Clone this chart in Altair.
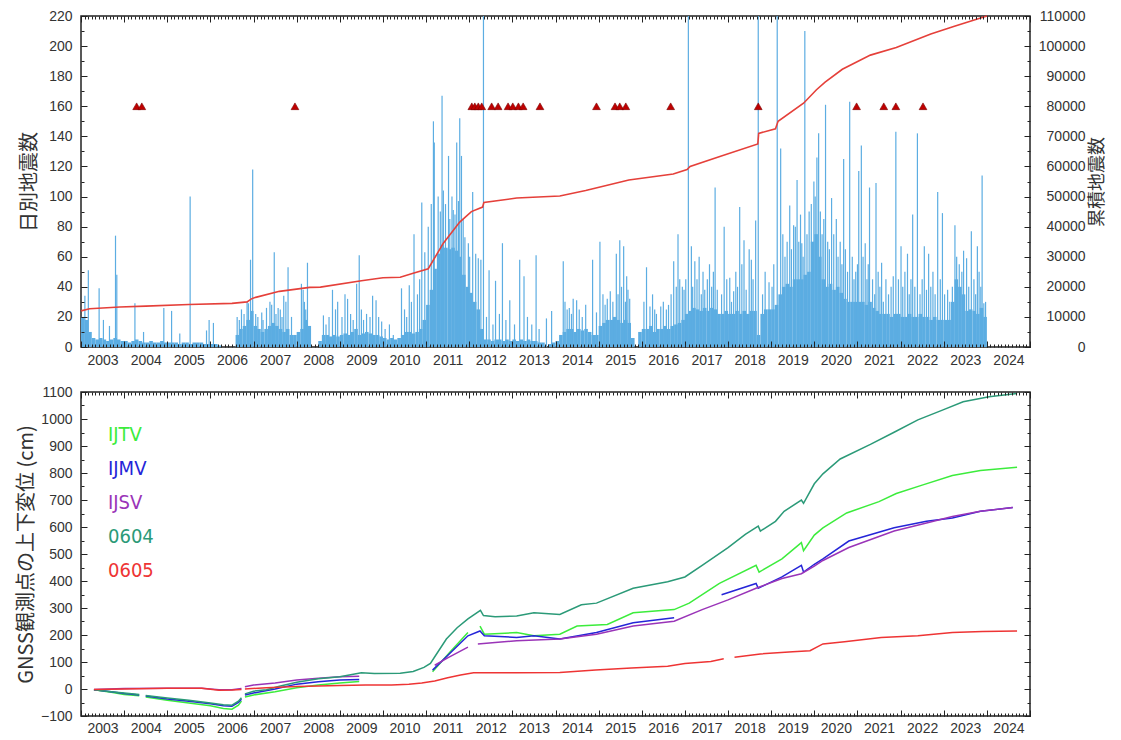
import altair as alt
import pandas as pd

# ---------------- data ----------------
X_DOMAIN = [2003, 2025]
YEARS = list(range(2003, 2025))

# typical daily-count level of the dense bar mass, Jan..Dec of each year
base_2003 = [20, 18, 10, 6, 5, 6, 5, 4, 5, 6, 5, 4]
base_2004 = [4, 3, 4, 5, 4, 3, 3, 4, 3, 3, 4, 3]
base_2005 = [3, 3, 3, 2, 3, 3, 2, 3, 3, 3, 2, 2]
base_2006 = [2, 2, 1, 0, 0, 0, 0, 8, 12, 14, 18, 24]
base_2007 = [14, 12, 10, 12, 14, 16, 14, 12, 10, 12, 8, 8]
base_2008 = [10, 12, 18, 14, 0, 0, 4, 8, 8, 7, 8, 7]
base_2009 = [8, 9, 8, 10, 12, 8, 9, 10, 9, 8, 8, 7]
base_2010 = [6, 5, 6, 5, 6, 8, 10, 10, 9, 10, 12, 18]
base_2011 = [28, 38, 52, 62, 68, 66, 65, 66, 64, 60, 48, 40]
base_2012 = [36, 30, 25, 12, 5, 5, 4, 5, 5, 4, 5, 4]
base_2013 = [5, 4, 5, 4, 5, 4, 4, 3, 3, 0, 2, 3]
base_2014 = [4, 8, 10, 12, 12, 10, 12, 11, 12, 10, 8, 8]
base_2015 = [14, 16, 18, 18, 20, 18, 16, 18, 16, 6, 0, 10]
base_2016 = [12, 12, 14, 10, 12, 12, 14, 12, 14, 15, 16, 18]
base_2017 = [22, 24, 26, 25, 24, 26, 24, 26, 25, 22, 22, 24]
base_2018 = [22, 22, 24, 22, 24, 22, 24, 24, 8, 22, 25, 25]
base_2019 = [25, 28, 35, 40, 42, 40, 45, 45, 45, 48, 50, 70]
base_2020 = [75, 60, 45, 40, 42, 38, 40, 36, 32, 30, 30, 30]
base_2021 = [30, 30, 28, 30, 26, 24, 22, 22, 22, 20, 22, 22]
base_2022 = [20, 20, 22, 20, 20, 22, 20, 20, 18, 20, 18, 18]
base_2023 = [18, 18, 30, 45, 40, 35, 24, 25, 24, 22, 26, 20]
BASE_BY_YEAR = [base_2003, base_2004, base_2005, base_2006, base_2007, base_2008,
                base_2009, base_2010, base_2011, base_2012, base_2013, base_2014,
                base_2015, base_2016, base_2017, base_2018, base_2019, base_2020,
                base_2021, base_2022, base_2023]

# individual tall days (decimal year, daily count)
SPIKES = [
    (2003.09, 34), (2003.17, 51), (2003.42, 39), (2003.52, 18), (2003.66, 14), (2003.80, 74),
    (2003.83, 48), (2004.25, 29), (2004.45, 10), (2004.92, 26), (2005.10, 24), (2005.29, 9),
    (2005.53, 100), (2005.91, 11), (2005.97, 18), (2006.07, 16), (2006.67, 18), (2006.88, 29),
    (2006.93, 58), (2006.98, 118), (2007.19, 23), (2007.30, 26), (2007.38, 30), (2007.48, 63),
    (2007.57, 26), (2007.70, 34), (2007.80, 53), (2008.11, 42), (2008.15, 38), (2008.25, 56),
    (2008.62, 21), (2008.83, 38), (2008.95, 30), (2009.12, 35), (2009.18, 32), (2009.31, 18),
    (2009.39, 42), (2009.45, 61), (2009.62, 22), (2009.76, 34), (2009.84, 31), (2009.97, 17),
    (2010.24, 8), (2010.43, 39), (2010.61, 41), (2010.72, 75), (2010.90, 96), (2010.97, 63),
    (2011.05, 80), (2011.12, 95), (2011.17, 150), (2011.19, 136), (2011.28, 100), (2011.33, 90),
    (2011.37, 167), (2011.40, 104), (2011.45, 95), (2011.52, 127), (2011.55, 85), (2011.60, 100),
    (2011.63, 91), (2011.67, 88), (2011.71, 136), (2011.75, 97), (2011.78, 152), (2011.82, 127),
    (2011.86, 85), (2011.90, 73), (2011.98, 69), (2012.01, 60), (2012.08, 103), (2012.15, 62),
    (2012.21, 59), (2012.27, 58), (2012.33, 240), (2012.46, 51), (2012.61, 44), (2012.77, 69),
    (2012.94, 31), (2013.17, 58), (2013.27, 47), (2013.55, 61), (2013.79, 19), (2013.91, 24),
    (2014.18, 57), (2014.32, 26), (2014.41, 32), (2014.49, 31), (2014.86, 58), (2014.95, 23),
    (2015.03, 70), (2015.27, 37), (2015.41, 62), (2015.49, 71), (2015.58, 67), (2015.65, 47),
    (2015.72, 32), (2016.11, 53), (2016.19, 27), (2016.34, 22), (2016.44, 27), (2016.57, 25),
    (2016.74, 57), (2016.84, 75), (2016.94, 40), (2017.08, 240), (2017.15, 67), (2017.23, 57),
    (2017.33, 60), (2017.46, 38), (2017.70, 106), (2017.75, 38), (2017.91, 80), (2018.04, 46),
    (2018.13, 37), (2018.27, 93), (2018.37, 71), (2018.49, 65), (2018.54, 58), (2018.64, 84),
    (2018.70, 240), (2018.95, 43), (2019.14, 240), (2019.22, 132), (2019.43, 94), (2019.52, 81),
    (2019.60, 111), (2019.71, 69), (2019.78, 210), (2019.99, 110), (2020.06, 126), (2020.10, 142),
    (2020.26, 161), (2020.40, 99), (2020.51, 85), (2020.68, 125), (2020.82, 163), (2020.96, 50),
    (2021.03, 117), (2021.09, 134), (2021.18, 69), (2021.28, 106), (2021.43, 109), (2021.56, 56),
    (2021.83, 47), (2021.89, 143), (2022.01, 67), (2022.16, 62), (2022.28, 88), (2022.39, 142),
    (2022.55, 67), (2022.65, 62), (2022.86, 103), (2022.97, 89), (2023.09, 38), (2023.26, 81),
    (2023.46, 64), (2023.53, 59), (2023.64, 77), (2023.78, 67), (2023.89, 114), (2023.93, 29),
]

# medium-height days that give the dense bar mass its ragged top
MID_SPIKES = [
    (2006.62, 20), (2006.72, 25), (2006.78, 22), (2006.85, 30), (2007.05, 22), (2007.10, 20),
    (2007.22, 18), (2007.42, 28), (2007.52, 22), (2007.62, 25), (2007.66, 20), (2007.75, 30),
    (2007.88, 20), (2008.18, 30), (2008.21, 25), (2008.68, 15), (2008.75, 20), (2008.90, 25),
    (2009.05, 20), (2009.25, 22), (2009.50, 25), (2009.55, 18), (2009.70, 20), (2009.90, 20),
    (2010.05, 12), (2010.15, 15), (2010.50, 25), (2010.55, 20), (2010.66, 30), (2010.80, 35),
    (2010.85, 45), (2012.40, 20), (2012.55, 15), (2012.70, 22), (2012.85, 18), (2013.05, 15),
    (2013.35, 20), (2013.45, 15), (2013.62, 12), (2014.22, 30), (2014.27, 25), (2014.37, 22),
    (2014.55, 25), (2014.62, 20), (2014.70, 28), (2015.10, 35), (2015.15, 28), (2015.20, 32),
    (2015.33, 30), (2015.45, 35), (2015.53, 40), (2015.62, 30), (2015.68, 38), (2016.05, 30),
    (2016.25, 35), (2016.30, 25), (2016.50, 30), (2016.62, 28), (2016.68, 35), (2016.80, 40),
    (2016.88, 45), (2016.98, 38), (2017.02, 45), (2017.18, 40), (2017.28, 45), (2017.38, 35),
    (2017.42, 50), (2017.52, 45), (2017.57, 55), (2017.62, 40), (2017.66, 50), (2017.85, 35),
    (2017.97, 45), (2018.08, 30), (2018.18, 50), (2018.22, 40), (2018.32, 55), (2018.42, 38),
    (2018.58, 45), (2018.80, 35), (2018.86, 50), (2019.02, 40), (2019.06, 55), (2019.27, 75),
    (2019.32, 60), (2019.37, 70), (2019.47, 65), (2019.56, 80), (2019.64, 70), (2019.68, 88),
    (2019.74, 60), (2019.83, 75), (2019.88, 90), (2019.93, 95), (2020.02, 100), (2020.14, 90),
    (2020.18, 75), (2020.22, 85), (2020.31, 70), (2020.35, 65), (2020.45, 75), (2020.55, 60),
    (2020.60, 70), (2020.64, 55), (2020.72, 65), (2020.77, 50), (2020.88, 60), (2020.92, 45),
    (2021.00, 55), (2021.13, 60), (2021.22, 45), (2021.25, 55), (2021.35, 45), (2021.40, 35),
    (2021.48, 50), (2021.52, 40), (2021.60, 30), (2021.66, 45), (2021.72, 35), (2021.78, 40),
    (2021.95, 45), (2022.05, 40), (2022.10, 50), (2022.20, 35), (2022.24, 45), (2022.33, 40),
    (2022.45, 35), (2022.50, 45), (2022.60, 38), (2022.70, 40), (2022.75, 50), (2022.80, 35),
    (2022.92, 45), (2023.02, 35), (2023.14, 30), (2023.20, 40), (2023.30, 60), (2023.36, 55),
    (2023.42, 50), (2023.58, 40), (2023.70, 45), (2023.74, 35), (2023.82, 50), (2023.86, 40),
    (2023.97, 30),
]

# cumulative number of earthquakes (right axis)
CUM_T = [2003.0, 2003.2, 2003.9, 2004.5, 2005.5, 2006.5, 2006.85, 2006.95, 2007.05, 2007.6,
         2008.3, 2008.55, 2009.5, 2010.0, 2010.4, 2010.7, 2011.05, 2011.4, 2011.78, 2012.05,
         2012.31, 2012.34, 2013.1, 2014.1, 2014.7, 2015.7, 2016.73, 2017.05, 2017.12, 2017.81,
         2018.69, 2018.71, 2019.1, 2019.16, 2019.75, 2020.05, 2020.25, 2020.65, 2021.3, 2021.9,
         2022.7, 2023.23, 2024.0]
CUM_N = [12000, 12700, 13300, 13600, 14100, 14500, 15000, 16000, 16500, 18500,
         19800, 19900, 22000, 23000, 23200, 24500, 26000, 34500, 41500, 45000,
         46500, 48000, 49500, 50200, 52000, 55500, 57500, 59000, 60000, 63300,
         67500, 71000, 72500, 75000, 81000, 85500, 88000, 92300, 97000, 99500,
         104000, 106500, 110000]

# eruption markers (drawn at the 160 level)
ERUPTIONS = [2004.29, 2004.41, 2007.96, 2012.06, 2012.13, 2012.21, 2012.29, 2012.52, 2012.67,
             2012.90, 2013.01, 2013.14, 2013.25, 2013.64, 2014.95, 2015.38, 2015.49, 2015.63,
             2016.67, 2018.70, 2020.98, 2021.61, 2021.89, 2022.52]
ERUPTION_LEVEL = 160

# GNSS vertical displacement (cm); None separates data gaps
IJTV_T = [2003.3, 2003.7, 2004.0, 2004.35, None, 2004.5, 2005.0, 2005.5, 2006.0, 2006.3, 2006.5,
          2006.65, 2006.72, None, 2006.8, 2007.0, 2007.5, 2008.0, 2008.5, 2009.0, 2009.45, None,
          2011.15, 2011.55, 2011.97, None, 2012.25, 2012.35, 2013.1, 2013.5, 2014.1, 2014.5,
          2015.2, 2015.8, 2016.75, 2017.1, 2017.8, 2018.65, 2018.72, 2019.25, 2019.7, 2019.75,
          2020.0, 2020.2, 2020.75, 2021.5, 2021.9, 2022.5, 2023.2, 2023.85, 2024.7]
IJTV_V = [-3, -12, -20, -25, None, -30, -42, -52, -62, -72, -75,
          -60, -45, None, -30, -22, -10, 5, 15, 22, 28, None,
          64, 136, 209, None, 233, 203, 209, 197, 203, 233,
          239, 282, 294, 318, 391, 458, 433, 482, 542, 512,
          570, 597, 652, 694, 724, 755, 791, 809, 821]

IJMV_T = [2003.3, 2003.7, 2004.0, 2004.35, None, 2004.5, 2005.0, 2005.5, 2006.0, 2006.3, 2006.5,
          2006.65, 2006.72, None, 2006.8, 2007.0, 2007.5, 2008.0, 2008.5, 2009.0, 2009.45, None,
          2011.15, 2011.5, 2011.97, 2012.25, 2012.35, 2013.1, 2013.5, 2014.1, 2014.95, 2015.8,
          2016.75, None, 2017.85, 2018.65, 2018.7, 2019.25, 2019.7, 2019.75, 2020.0, 2020.2,
          2020.8, 2021.85, 2022.6, 2023.2, 2023.85, 2024.6]
IJMV_V = [-3, -10, -17, -22, None, -26, -37, -45, -55, -62, -64,
          -50, -38, None, -22, -15, 0, 18, 27, 33, 35, None,
          70, 124, 197, 215, 197, 191, 197, 185, 209, 245,
          264, None, 349, 391, 373, 415, 458, 433, 462, 482,
          548, 597, 621, 633, 658, 672]

IJSV_T = [2003.3, 2004.0, 2005.0, 2005.8, 2006.2, 2006.5, 2006.72, None, 2006.8, 2007.0, 2007.5,
          2008.0, 2008.5, 2009.0, 2009.45, None, 2011.2, 2011.5, 2011.97, None, 2012.2, 2012.6,
          2013.1, 2014.1, 2014.95, 2015.8, 2016.75, 2017.4, 2018.0, 2018.65, 2019.25, 2019.7,
          2020.0, 2020.2, 2020.8, 2021.85, 2022.6, 2023.2, 2023.85, 2024.6]
IJSV_V = [-2, 2, 3, 3, -3, -3, 2, None, 8, 15, 22,
          33, 40, 45, 47, None, 88, 115, 155, None, 167, 172,
          179, 185, 203, 233, 251, 294, 330, 373, 409, 427,
          455, 476, 524, 585, 615, 639, 658, 672]

S0604_T = [2003.3, 2003.7, 2004.0, 2004.35, None, 2004.5, 2005.0, 2005.5, 2006.0, 2006.3, 2006.5,
           2006.65, 2006.72, None, 2006.8, 2007.0, 2007.3, 2007.6, 2008.0, 2008.5, 2009.0, 2009.5,
           2009.8, 2010.4, 2010.7, 2010.95, 2011.1, 2011.22, 2011.47, 2011.72, 2011.97, 2012.26,
           2012.33, 2012.6, 2013.1, 2013.5, 2014.1, 2014.6, 2014.95, 2015.8, 2016.6, 2017.0,
           2017.4, 2018.0, 2018.4, 2018.7, 2018.75, 2019.1, 2019.3, 2019.7, 2019.75, 2020.0,
           2020.2, 2020.6, 2021.3, 2021.85, 2022.4, 2022.97, 2023.45, 2024.05, 2024.7]
S0604_V = [-3, -10, -15, -20, None, -24, -33, -42, -52, -58, -60,
           -45, -32, None, -18, -8, -3, 10, 25, 38, 45, 60,
           57, 58, 65, 80, 95, 124, 185, 227, 260, 291,
           272, 268, 270, 282, 276, 312, 318, 373, 397, 415,
           458, 524, 573, 603, 585, 621, 658, 700, 688, 760,
           797, 852, 906, 951, 997, 1033, 1064, 1082, 1094]

S0605_T = [2003.3, 2004.0, 2005.0, 2005.8, 2006.2, 2006.5, 2006.72, None, 2006.8, 2007.3, 2008.0,
           2009.0, 2009.6, 2010.2, 2010.6, 2010.9, 2011.2, 2011.5, 2011.8, 2012.1, 2012.5, 2013.1,
           2014.1, 2014.93, 2015.76, 2016.6, 2017.0, 2017.6, 2017.9, None, 2018.15, 2018.75,
           2019.5, 2019.9, 2020.2, 2020.7, 2021.55, 2022.4, 2023.2, 2023.9, 2024.7]
S0605_V = [-2, 0, 3, 3, -5, -4, -2, None, 0, 5, 9,
           13, 15, 15, 18, 22, 30, 42, 52, 60, 60, 60,
           61, 70, 78, 84, 94, 102, 112, None, 118, 130,
           138, 142, 167, 175, 191, 197, 209, 213, 215]

STATIONS = ["IJTV", "IJMV", "IJSV", "0604", "0605"]
STATION_COLORS = ["#3cec3c", "#2525d8", "#9a34b8", "#2b9a78", "#ee3434"]
SERIES = [(IJTV_T, IJTV_V), (IJMV_T, IJMV_V), (IJSV_T, IJSV_V), (S0604_T, S0604_V), (S0605_T, S0605_V)]

# ---------------- tables ----------------
base_rows = []
for yi, levels in enumerate(BASE_BY_YEAR):
    yr = YEARS[yi]
    for m, val in enumerate(levels):
        base_rows.append({"x": yr + m / 12, "x2": yr + (m + 1) / 12, "n": val})
base_df = pd.DataFrame(base_rows)
spike_df = pd.DataFrame(SPIKES + MID_SPIKES, columns=["t", "n"])
cum_df = pd.DataFrame({"t": CUM_T, "c": CUM_N})
erupt_df = pd.DataFrame({"t": ERUPTIONS, "n": [ERUPTION_LEVEL] * len(ERUPTIONS)})

g_rows = []
for name, (ts, vs) in zip(STATIONS, SERIES):
    seg = 0
    for t, v in zip(ts, vs):
        if t is None:
            seg += 1
            continue
        g_rows.append({"t": t, "v": v, "station": name, "seg": f"{name}-{seg}"})
gnss_df = pd.DataFrame(g_rows)

# ---------------- styling ----------------
W = 949
H_TOP = 331
H_BOT = 324
HALF_YEAR_PX = W / 22 / 2
LABEL_FONT = "Liberation Sans"
CJK_FONT = "Noto Sans CJK JP"
NARROW_FONT = "Liberation Sans Narrow, DejaVu Sans Condensed, sans-serif"
TXT = "#333333"
FRAME = "#222222"
BAR = "#5cade2"
CUM_RED = "#e5403a"

xscale = alt.Scale(domain=X_DOMAIN, nice=False, zero=False)
MONTH_TICKS = [2003 + i / 12 for i in range(22 * 12 + 1)]
YEAR_TICKS = YEARS + [2025]


def x_label_axis(pad):
    return alt.Axis(orient="bottom", values=YEARS, format="d", labelOffset=HALF_YEAR_PX,
                    labelFlush=False, labelOverlap=False, labelBound=False, ticks=False,
                    domain=False, grid=False, labelPadding=pad, title=None)


def frame_ticks(ydomain, ymaj, ymin):
    anchor = pd.DataFrame({"x": [X_DOMAIN[0]], "y": [ydomain[0]]})
    layers = []
    for xo, yo, xv, yv, size in [("bottom", "left", YEAR_TICKS, ymaj, 6),
                                 ("bottom", "left", MONTH_TICKS, ymin, 3),
                                 ("top", "right", YEAR_TICKS, ymaj, 6),
                                 ("top", "right", MONTH_TICKS, ymin, 3)]:
        common = dict(tickSize=size, offset=-size, labels=False, domain=False, grid=False,
                      title=None, ticks=True, tickColor=FRAME, tickWidth=1, zindex=2)
        layers.append(
            alt.Chart(anchor).mark_point(opacity=0).encode(
                x=alt.X("x:Q", scale=xscale, axis=alt.Axis(orient=xo, values=xv, **common)),
                y=alt.Y("y:Q", scale=alt.Scale(domain=ydomain, nice=False, zero=False),
                        axis=alt.Axis(orient=yo, values=yv, **common)),
            )
        )
    return layers


count_scale = alt.Scale(domain=[0, 220], nice=False, zero=False)
cum_scale = alt.Scale(domain=[0, 110000], nice=False, zero=False)

bars = alt.Chart(base_df).mark_rect(color=BAR, strokeWidth=0).encode(
    x=alt.X("x:Q", scale=xscale, axis=x_label_axis(6)),
    x2="x2:Q",
    y=alt.Y("n:Q", scale=count_scale,
            axis=alt.Axis(orient="left", values=list(range(0, 221, 20)), ticks=False,
                          domain=False, grid=False, labelPadding=9, title="日別地震数",
                          titlePadding=9)),
    y2=alt.datum(0),
)
spikes = alt.Chart(spike_df).mark_rule(color=BAR, strokeWidth=1.2, clip=True).encode(
    x=alt.X("t:Q", scale=xscale, axis=None),
    y=alt.Y("n:Q", scale=count_scale, axis=None),
    y2=alt.datum(0),
)
cum_line = alt.Chart(cum_df).mark_line(color=CUM_RED, strokeWidth=1.6).encode(
    x=alt.X("t:Q", scale=xscale, axis=None),
    y=alt.Y("c:Q", scale=cum_scale,
            axis=alt.Axis(orient="right", values=list(range(0, 110001, 10000)), format="d",
                          ticks=False, domain=False, grid=False, labelAlign="right",
                          labelPadding=55, title="累積地震数", titleAngle=270,
                          titleBaseline="top", titlePadding=3, titleFontSize=18)),
)
tri = alt.Chart(erupt_df).mark_point(shape="triangle-up", filled=True, size=60, color="#bf0000",
                                     stroke="#7a0000", strokeWidth=0.6, opacity=1).encode(
    x=alt.X("t:Q", scale=xscale, axis=None),
    y=alt.Y("n:Q", scale=count_scale, axis=None),
)

top = alt.layer(
    bars, spikes, cum_line, tri,
    *frame_ticks([0, 220], list(range(0, 221, 20)), list(range(0, 221, 10)))
).resolve_scale(y="independent").resolve_axis(x="independent", y="independent").properties(
    width=W, height=H_TOP)

gscale = alt.Scale(domain=[-100, 1100], nice=False, zero=False)
lines = alt.Chart(gnss_df).mark_line(strokeWidth=1.5, clip=True).encode(
    x=alt.X("t:Q", scale=xscale, axis=x_label_axis(5)),
    y=alt.Y("v:Q", scale=gscale,
            axis=alt.Axis(orient="left", values=list(range(-100, 1101, 100)), format="d",
                          ticks=False, domain=False, grid=False, labelPadding=9,
                          title="GNSS観測点の上下変位 (cm)", titlePadding=4)),
    color=alt.Color("station:N", scale=alt.Scale(domain=STATIONS, range=STATION_COLORS),
                    legend=None),
    detail="seg:N",
)

texts = []
for i, (name, col) in enumerate(zip(STATIONS, STATION_COLORS)):
    texts.append(
        alt.Chart(pd.DataFrame({"label": [name]})).mark_text(
            align="left", baseline="middle", font=NARROW_FONT, fontSize=20, color=col
        ).encode(text="label:N", x=alt.value(27), y=alt.value(43 + 34 * i))
    )

bottom = alt.layer(
    lines, *texts,
    *frame_ticks([-100, 1100], list(range(-100, 1101, 100)), list(range(-100, 1101, 50)))
).resolve_axis(x="independent", y="independent").properties(width=W, height=H_BOT)

chart = alt.vconcat(
    top, bottom, spacing=16,
    padding={"left": 7, "top": 0, "right": 3, "bottom": 0},
).configure_view(stroke=FRAME, strokeWidth=1.5).configure_axis(
    labelFont=LABEL_FONT, labelFontSize=14, labelColor=TXT,
    titleFont=CJK_FONT, titleFontSize=20, titleColor=TXT, titleFontWeight="normal",
)

chart.save("out.html", embed_options={"renderer": "svg", "actions": False})
